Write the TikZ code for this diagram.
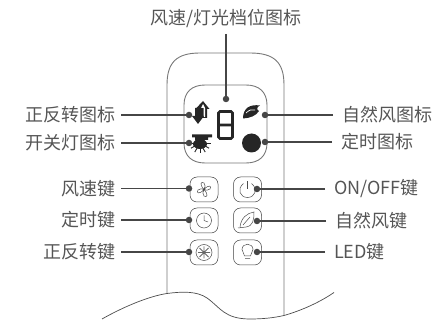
\documentclass[tikz,border=0pt]{standalone}
\usepackage{fontspec}
\setmainfont{Noto Sans CJK SC}
\usepackage{xcolor}
\usetikzlibrary{arrows.meta,calc,positioning}
\definecolor{leadgray}{RGB}{70,70,70}
\definecolor{shellgray}{RGB}{120,120,120}
\definecolor{labelgray}{RGB}{85,85,85}
\tikzset{
	% Specifications for style of nodes:
	lbl/.style = {inner sep=0pt, outer sep=6pt, text=labelgray, font=\fontsize{18}{20}\selectfont},
	lblr/.style = {lbl, outer sep=9pt},
	pindot/.style = {circle, fill=leadgray, minimum size=6.5pt, inner sep=0pt, outer sep=0pt},
	keybox/.style = {rectangle, rounded corners=7pt, draw=black!75, line width=0.5pt,
	minimum width=28pt, minimum height=25pt, inner sep=0pt},
	lead/.style = {draw=leadgray, line width=1.2pt},
	shell/.style = {draw=shellgray, line width=0.9pt},
	glyph/.style = {draw=black!70, line width=0.5pt},
}
\begin{document}
\begin{tikzpicture}[x=1pt, y=-1pt]
	\useasboundingbox (0,0) rectangle (434,320);
		% remote outline
		\draw[shell] (167,293.5) -- (167,85) .. controls (167,62) and (177,53) .. (200,53)
			-- (250,53) .. controls (274,53) and (284,62) .. (284,85) -- (284,315.5);
		\draw[draw=black!70, line width=0.7pt] (102,319) .. controls (125,306) and (150,296) .. (167,293.5)
			.. controls (182,291.5) and (197,291) .. (207,298) .. controls (220,307) and (224,319) .. (250,319)
			.. controls (262,319) and (273,318) .. (284,315.5) .. controls (303,310) and (320,302) .. (334,292.5);
		\draw[shell] (184,105) .. controls (184,92) and (192,85) .. (205,85) -- (246,85)
			.. controls (259,85) and (267,92) .. (267,105) -- (267,143)
			.. controls (267,156) and (259,163) .. (246,163) -- (205,163)
			.. controls (192,163) and (184,156) .. (184,143) -- cycle;
		% keys
		\node (keyfan)[keybox] at (204,189.5) {};
		\node (keytimer)[keybox] at (204,220.5) {};
		\node (keyturn)[keybox] at (204,252.5) {};
		\node (keypower)[keybox] at (247.5,189.5) {};
		\node (keyleaf)[keybox] at (247.5,220.5) {};
		\node (keyled)[keybox] at (247.5,252.5) {};
		% screen icons
		\draw[line width=2.8pt, rounded corners=1.5pt, draw=black!85] (218.5,111.5) rectangle (232.5,138.5) (218.5,125) -- (232.5,125);
		\fill[black!85] (198,116) -- (198,109) -- (195.5,109) -- (203,101) -- (209.5,109) -- (207,109) -- (207,118) -- (198,118) -- cycle;
		\fill[white] (201,108) -- (203,104) -- (205,108) -- (205,117) -- (203.5,117) -- (203.5,108) -- cycle;
		\fill[black!85] (195,108) -- (202,108) -- (202,116) -- (204,116) -- (198,124) -- (192,116) -- (195,116) -- cycle;
		\fill[black!85] (192,134.5) rectangle (212,137.5) (195,137) rectangle (208,140);
		\fill[black!85] (200,144) ellipse (7 and 5);
		\foreach \a in {0,30,...,180}
			\draw[black!85, line width=0.9pt] (200,143) -- ++(\a:10.5);
		\fill[black!85] (243,118.5) .. controls (243,108) and (250,104) .. (260,105.5)
			.. controls (257,107) and (256,109) .. (259,111) .. controls (256,116) and (250,118) .. (243,118.5) -- cycle;
		\draw[white, line width=0.7pt] (246,113) .. controls (249,110) and (252,109) .. (255,110);
		\fill[black!85] (251.5,143) circle (9.5);
		% key icons
		\draw[glyph] (204,189.5) .. controls (199,184) and (201,181) .. (204,183) .. controls (206,185) and (205,187) .. (204,189.5)
			.. controls (209,184) and (212,186) .. (210,189) .. controls (208,191) and (206,190) .. (204,189.5)
			.. controls (209,195) and (207,198) .. (204,196) .. controls (202,194) and (203,192) .. (204,189.5)
			.. controls (199,195) and (196,193) .. (198,190) .. controls (200,188) and (202,189) .. (204,189.5);
		\draw[glyph] (204,220.5) circle (7.5) (204,215.5) -- (204,220.5) -- (208,222);
		\draw[glyph] (204,252.5) circle (8);
		\draw[glyph, line width=0.9pt, black!60] (204,252.5) -- (204,246.5) (204,252.5) -- (210,252.5) (204,252.5) -- (204,258.5) (204,252.5) -- (198,252.5)
			(199.5,248) -- (208.5,257) (208.5,248) -- (199.5,257);
		\draw[glyph] (243.5,183.6) .. controls (236.5,189) and (240,197.5) .. (247.5,197.5) .. controls (255,197.5) and (258.5,189) .. (251.5,183.6);
		\draw[glyph] (247.5,181.5) -- (247.5,189.5);
		\draw[glyph] (240,227) .. controls (241,218) and (247,213) .. (254,212) .. controls (254,220) and (253,226) .. (246,227) -- (238,228)
			(243,225) -- (250,217);
		\draw[glyph] (244.5,256) .. controls (244.5,253) and (242,252) .. (242,249.5) .. controls (242,242.5) and (253,242.5) .. (253,249.5)
			.. controls (253,252) and (250.5,253) .. (250.5,256) -- cycle (245,258.5) -- (250,258.5);
		% pins
		\node (pinspeed)[pindot] at (226,99) {};
		\node (pinturn)[pindot] at (189,115) {};
		\node (pinlamp)[pindot] at (189,143) {};
		\node (pinwind)[pindot] at (265,115) {};
		\node (pintime)[pindot] at (265,142) {};
		\node (pinfan)[pindot] at (189,188.5) {};
		\node (pinclock)[pindot] at (189,220) {};
		\node (pinrev)[pindot] at (189,252) {};
		\node (pinpower)[pindot] at (257,189) {};
		\node (pinleaf)[pindot] at (257,221) {};
		\node (pinled)[pindot] at (257,252) {};
		% labels
		\node (lblspeed)[lbl, above=61.75pt of pinspeed]{风速/灯光档位图标};
		\node (lblturn)[lbl, left=64.75pt of pinturn]{正反转图标};
		\node (lbllamp)[lbl, left=64.75pt of pinlamp]{开关灯图标};
		\node (lblwind)[lblr, right=64.75pt of pinwind]{自然风图标};
		\node (lbltime)[lblr, right=63.75pt of pintime]{定时图标};
		\node (lblfan)[lbl, left=64.75pt of pinfan]{风速键};
		\node (lblclock)[lbl, left=64.75pt of pinclock]{定时键};
		\node (lblrev)[lbl, left=64.75pt of pinrev]{正反转键};
		\node (lblpower)[lblr, right=64.75pt of pinpower]{ON/OFF键};
		\node (lblleaf)[lblr, right=65.75pt of pinleaf]{自然风键};
		\node (lblled)[lblr, right=64.75pt of pinled]{LED键};
		% draw leads between nodes
		\draw[lead](lblspeed) -- (pinspeed);
		\draw[lead](lblturn) -- (pinturn);
		\draw[lead](lbllamp) -- (pinlamp);
		\draw[lead](lblwind) -- (pinwind);
		\draw[lead](lbltime) -- (pintime);
		\draw[lead](lblfan) -- (pinfan);
		\draw[lead](lblclock) -- (pinclock);
		\draw[lead](lblrev) -- (pinrev);
		\draw[lead](lblpower) -- (pinpower);
		\draw[lead](lblleaf) -- (pinleaf);
		\draw[lead](lblled) -- (pinled);
	\end{tikzpicture}
\end{document}
